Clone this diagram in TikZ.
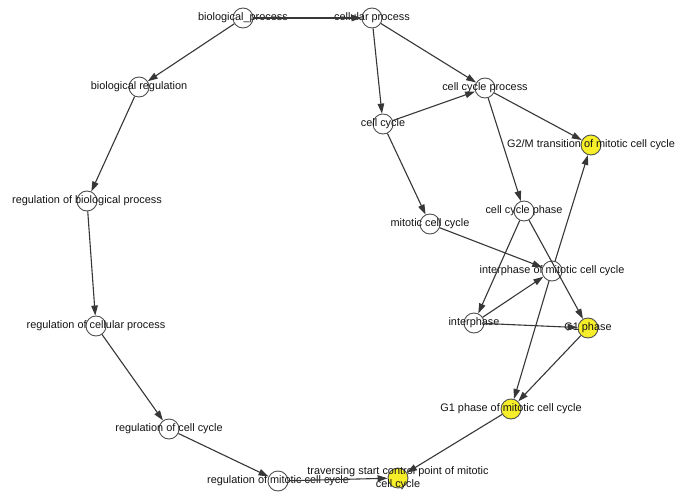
\documentclass[tikz,border=0pt]{standalone}
\usepackage{fontspec}
\setmainfont{Liberation Sans}
\usetikzlibrary{arrows.meta}
\definecolor{nodeyellow}{RGB}{245,238,40}
\definecolor{edgegray}{RGB}{55,55,55}
\definecolor{ringgray}{RGB}{80,80,80}
\definecolor{txtgray}{RGB}{20,20,20}
\tikzset{
  go/.style={circle, draw=ringgray, line width=0.9pt, fill=white, minimum size=20pt, inner sep=0pt},
  hit/.style={go, fill=nodeyellow},
  lbl/.style={font=\fontsize{10.9}{12.5}\selectfont, text=txtgray, inner sep=0pt, align=center},
  edge/.style={draw=edgegray, line width=1.1pt, -{Triangle[length=10pt,width=6.5pt]}}
}
\begin{document}
\begin{tikzpicture}[x=1pt,y=-1pt]
\useasboundingbox[fill=white] (0,0) rectangle (680,500);
\node[go,  label={[lbl]center:biological\_process}] (bp) at (243,18) {};
\node[go,  label={[lbl]center:cellular process}] (cp) at (372,18) {};
\node[go,  label={[lbl]center:biological regulation}] (br) at (139,87) {};
\node[go,  label={[lbl]center:cell cycle process}] (ccp) at (485,88) {};
\node[go,  label={[lbl]center:cell cycle}] (cc) at (383,124) {};
\node[hit, label={[lbl]center:G2/M transition of mitotic cell cycle}] (g2m) at (591,145) {};
\node[go,  label={[lbl]center:regulation of biological process}] (rbp) at (87,201) {};
\node[go,  label={[lbl]center:cell cycle phase}] (ccph) at (524,211) {};
\node[go,  label={[lbl]center:mitotic cell cycle}] (mcc) at (430,224) {};
\node[go,  label={[lbl]center:interphase of mitotic cell cycle}] (imcc) at (552,271) {};
\node[go,  label={[lbl]center:regulation of cellular process}] (rcp) at (96,326) {};
\node[go,  label={[lbl]center:interphase}] (inter) at (474,323) {};
\node[hit, label={[lbl]center:G1 phase}] (g1) at (588,328) {};
\node[hit, label={[lbl]center:G1 phase of mitotic cell cycle}] (g1m) at (511,409) {};
\node[go,  label={[lbl]center:regulation of cell cycle}] (rcc) at (169,429) {};
\node[go,  label={[lbl]center:regulation of mitotic cell cycle}] (rmcc) at (278,481) {};
\node[hit, label={[lbl]center:traversing start control point of mitotic\\cell cycle}] (trav) at (398,478) {};

\draw[edge] (bp) -- (cp);
\draw[edge] (bp) -- (br);
\draw[edge] (cp) -- (cc);
\draw[edge] (cp) -- (ccp);
\draw[edge] (br) -- (rbp);
\draw[edge] (rbp) -- (rcp);
\draw[edge] (rcp) -- (rcc);
\draw[edge] (rcc) -- (rmcc);
\draw[edge] (rmcc) -- (trav);
\draw[edge] (cc) -- (ccp);
\draw[edge] (cc) -- (mcc);
\draw[edge] (ccp) -- (g2m);
\draw[edge] (ccp) -- (ccph);
\draw[edge] (ccph) -- (inter);
\draw[edge] (ccph) -- (g1);
\draw[edge] (mcc) -- (imcc);
\draw[edge] (inter) -- (imcc);
\draw[edge] (inter) -- (g1);
\draw[edge] (imcc) -- (g2m);
\draw[edge] (imcc) -- (g1m);
\draw[edge] (g1) -- (g1m);
\draw[edge] (g1m) -- (trav);
\end{tikzpicture}
\end{document}
